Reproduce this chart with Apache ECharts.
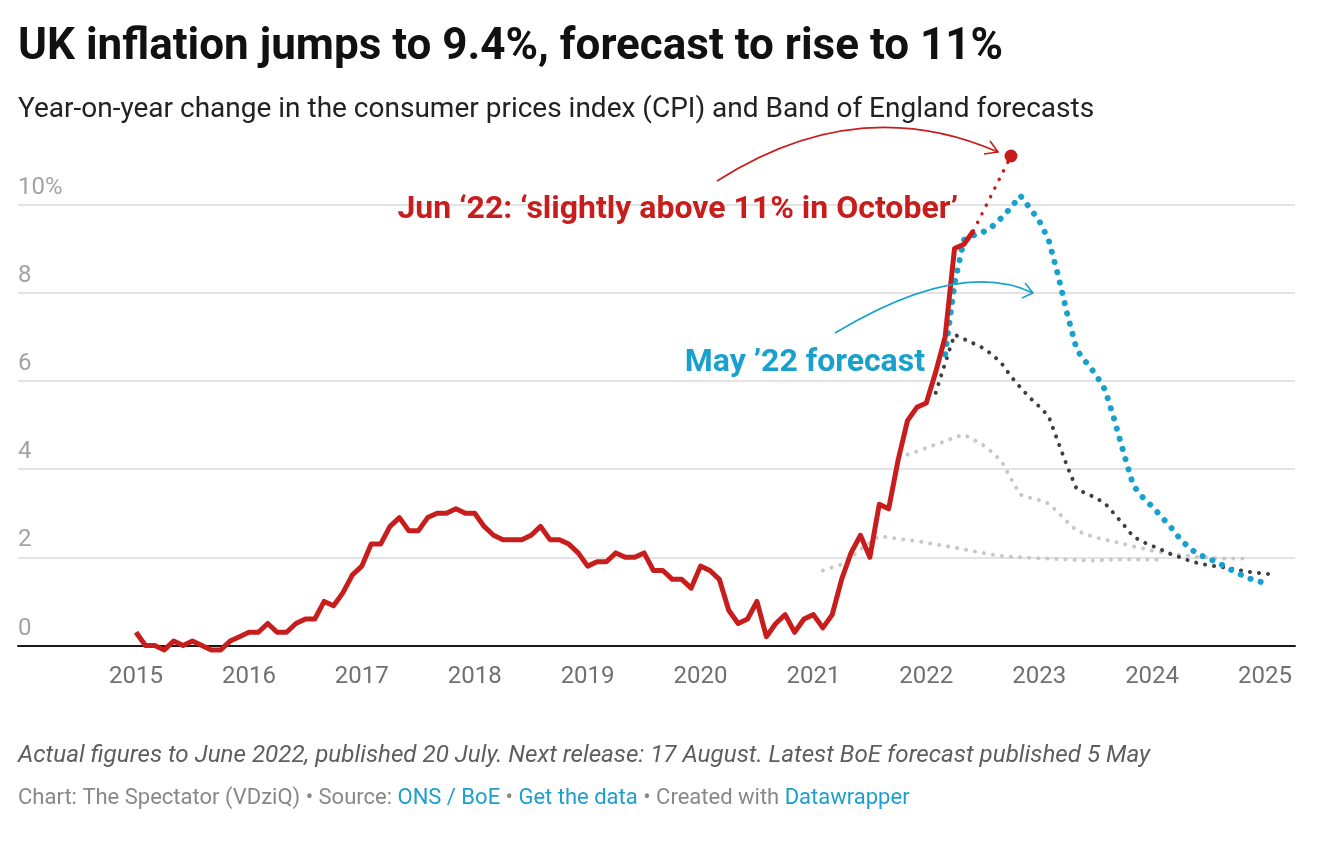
<!DOCTYPE html>
<html><head><meta charset="utf-8">
<script src="https://cdn.jsdelivr.net/npm/echarts@6/dist/echarts.min.js"></script>
<style>html,body{margin:0;padding:0;background:#fff}#c{width:1340px;height:866px}</style>
</head><body><div id="c"></div>
<script>
// ---- data ----
const yearTicks = [2015,2016,2017,2018,2019,2020,2021,2022,2023,2024,2025];
const yTicks = [0,2,4,6,8,10];

// Actual CPI, monthly from Jan 2015
const cpiStart = '2015-01';
const cpiActual = [
  0.3,0.0,0.0,-0.1,0.1,0.0,0.1,0.0,-0.1,-0.1,0.1,0.2,
  0.3,0.3,0.5,0.3,0.3,0.5,0.6,0.6,1.0,0.9,1.2,1.6,
  1.8,2.3,2.3,2.7,2.9,2.6,2.6,2.9,3.0,3.0,3.1,3.0,
  3.0,2.7,2.5,2.4,2.4,2.4,2.5,2.7,2.4,2.4,2.3,2.1,
  1.8,1.9,1.9,2.1,2.0,2.0,2.1,1.7,1.7,1.5,1.5,1.3,
  1.8,1.7,1.5,0.8,0.5,0.6,1.0,0.2,0.5,0.7,0.3,0.6,
  0.7,0.4,0.7,1.5,2.1,2.5,2.0,3.2,3.1,4.2,5.1,5.4,
  5.5,6.2,7.0,9.0,9.1,9.4
];

// Jun '22 outlook: 'slightly above 11% in October'
const jun22Dates = ['2022-06','2022-10'];
const jun22Values = [9.4, 11.1];

// BoE May 2022 forecast (monthly from Mar 2022)
const may22Start = '2022-03';
const may22Forecast = [6.6,8.2,9.2,9.3,9.37,9.5,9.7,9.93,10.2,9.92,9.63,9.2,8.4,7.5,6.7,6.42,6.15,5.8,5.11,4.35,3.63,3.36,3.15,2.92,2.68,2.41,2.2,2.06,1.97,1.88,1.76,1.65,1.55,1.47,1.42];

// BoE Feb 2022 forecast (monthly from Feb 2022)
const feb22Start = '2022-02';
const feb22Forecast = [5.73,6.4,7.05,6.95,6.85,6.75,6.6,6.4,6.1,5.85,5.62,5.42,5.2,4.62,4.05,3.54,3.45,3.35,3.22,2.98,2.73,2.47,2.35,2.26,2.17,2.07,2.0,1.92,1.86,1.82,1.79,1.76,1.72,1.68,1.65,1.63,1.61];

// BoE Nov 2021 forecast (monthly from Nov 2021)
const nov21Start = '2021-11';
const nov21Forecast = [4.33,4.4,4.48,4.56,4.63,4.72,4.78,4.67,4.55,4.38,4.18,3.78,3.42,3.35,3.3,3.22,3.02,2.8,2.6,2.52,2.45,2.4,2.35,2.3,2.25,2.2,2.15,2.12,2.08,2.05,2.03,2.0,1.99,1.98,1.97,1.97,1.97];

// BoE Aug 2021 forecast (monthly from Feb 2021)
const aug21Start = '2021-02';
const aug21Forecast = [1.70,1.77,1.84,2.0,2.18,2.33,2.48,2.45,2.42,2.39,2.37,2.33,2.29,2.26,2.22,2.18,2.14,2.1,2.06,2.03,2.01,2.0,1.99,1.98,1.97,1.96,1.95,1.94,1.93,1.93,1.94,1.95,1.95,1.95,1.95,1.95,1.95];

// ---- helpers ----
function monthPos(start, i) {
  const p = start.split('-').map(Number);
  return p[0] + (p[1] - 1 + (i || 0)) / 12;
}
function seq(start, vals) { return vals.map((v, i) => [monthPos(start, i), v]); }

const RED = '#c71e1d', BLUE = '#18a1cd', DARK = '#3f3f3f', LIGHT = '#c8c8c8';
const FONT = 'Roboto, "Noto Sans", sans-serif';

const chart = echarts.init(document.getElementById('c'), null, {renderer: 'canvas'});

function dotted(color, width, gap) {
  return {color: color, width: width, type: [0.1, gap], cap: 'round', join: 'round'};
}

chart.setOption({
  animation: false,
  backgroundColor: '#fff',
  title: [
    {text: 'UK inflation jumps to 9.4%, forecast to rise to 11%', left: 18, top: 26, padding: 0,
     textStyle: {fontFamily: FONT, fontWeight: 'bold', fontSize: 44, color: '#111'}},
    {text: 'Year-on-year change in the consumer prices index (CPI) and Band of England forecasts', left: 18, top: 96, padding: 0,
     textStyle: {fontFamily: FONT, fontWeight: 'normal', fontSize: 28, color: '#222'}},
    {text: 'Actual figures to June 2022, published 20 July. Next release: 17 August. Latest BoE forecast published 5 May', left: 18, top: 744, padding: 0,
     textStyle: {fontFamily: FONT, fontWeight: 'normal', fontStyle: 'italic', fontSize: 24.2, color: '#5e5e5e'}},
    {text: '{g|Chart: The Spectator (VDziQ) • Source: }{b|ONS / BoE}{g| • }{b|Get the data}{g| • Created with }{b|Datawrapper}', left: 18, top: 787, padding: 0,
     textStyle: {fontWeight: 'normal', rich: {
       g: {color: '#888', fontSize: 22, fontFamily: FONT, fontWeight: 'normal'},
       b: {color: '#1d9fce', fontSize: 22, fontFamily: FONT, fontWeight: 'normal'}
     }}}
  ],
  grid: {left: 18, right: 45, top: 116.3, bottom: 220.5, containLabel: false},
  xAxis: {
    type: 'value', min: 2013.9548, max: 2025.2657,
    axisLine: {show: true, onZero: true, lineStyle: {color: '#1a1a1a', width: 2}},
    axisTick: {show: false},
    splitLine: {show: false},
    axisLabel: {customValues: yearTicks, color: '#707070', fontSize: 24, fontFamily: FONT, margin: 19,
      formatter: v => String(Math.round(v))}
  },
  yAxis: {
    type: 'value', min: 0, max: 12, interval: 2,
    axisLine: {show: false},
    axisTick: {show: false, customValues: yTicks},
    splitLine: {show: true, lineStyle: {color: '#e3e3e3', width: 2}},
    axisLabel: {inside: true, customValues: yTicks, margin: 0, align: 'left', verticalAlign: 'bottom',
      padding: [0, 0, 5, 0], color: '#a3a3a3', fontSize: 24, fontFamily: FONT,
      formatter: v => v === 10 ? '10%' : String(v)}
  },
  series: [
    {name: 'Aug 21 forecast', type: 'line', data: seq(aug21Start, aug21Forecast), showSymbol: false, clip: false, z: 2,
     lineStyle: dotted(LIGHT, 4, 9)},
    {name: 'Nov 21 forecast', type: 'line', data: seq(nov21Start, nov21Forecast), showSymbol: false, clip: false, z: 2,
     lineStyle: dotted(LIGHT, 4, 9)},
    {name: 'Feb 22 forecast', type: 'line', data: seq(feb22Start, feb22Forecast), showSymbol: false, clip: false, z: 3,
     lineStyle: dotted(DARK, 4, 9)},
    {name: 'May 22 forecast', type: 'line', data: seq(may22Start, may22Forecast), showSymbol: false, clip: false, z: 4,
     lineStyle: dotted(BLUE, 6, 10.5)},
    {name: 'Jun 22 outlook', type: 'line', data: jun22Dates.map((d, i) => [monthPos(d), jun22Values[i]]), clip: false, z: 5,
     symbol: 'circle', showAllSymbol: true,
     symbolSize: (v, p) => p.dataIndex === jun22Values.length - 1 ? 13 : 0,
     itemStyle: {color: RED},
     lineStyle: dotted(RED, 3.5, 9.5)},
    {name: 'CPI', type: 'line', data: seq(cpiStart, cpiActual), showSymbol: false, clip: false, z: 6,
     lineStyle: {color: RED, width: 5, join: 'round'}}
  ],
  graphic: [
    {type: 'text', x: 958, y: 210, z: 10,
     style: {text: 'Jun ‘22: ‘slightly above 11% in October’', fill: RED, font: 'bold 32px ' + FONT,
             align: 'right', verticalAlign: 'middle'}},
    {type: 'text', x: 925, y: 363, z: 10,
     style: {text: 'May ’22 forecast', fill: BLUE, font: 'bold 32px ' + FONT,
             align: 'right', verticalAlign: 'middle'}},
    {type: 'bezierCurve', z: 10, shape: {x1: 717, y1: 181, cpx1: 858, cpy1: 91, x2: 998, y2: 152},
     style: {stroke: RED, lineWidth: 1.6, fill: null}},
    {type: 'polyline', z: 10, shape: {points: [[990, 141], [998, 152], [984, 154]]},
     style: {stroke: RED, lineWidth: 1.6, fill: null}},
    {type: 'bezierCurve', z: 10, shape: {x1: 835, y1: 333, cpx1: 960, cpy1: 258, x2: 1033, y2: 293},
     style: {stroke: BLUE, lineWidth: 1.6, fill: null}},
    {type: 'polyline', z: 10, shape: {points: [[1025, 283], [1033, 293], [1022, 298]]},
     style: {stroke: BLUE, lineWidth: 1.6, fill: null}}
  ]
});
</script></body></html>
